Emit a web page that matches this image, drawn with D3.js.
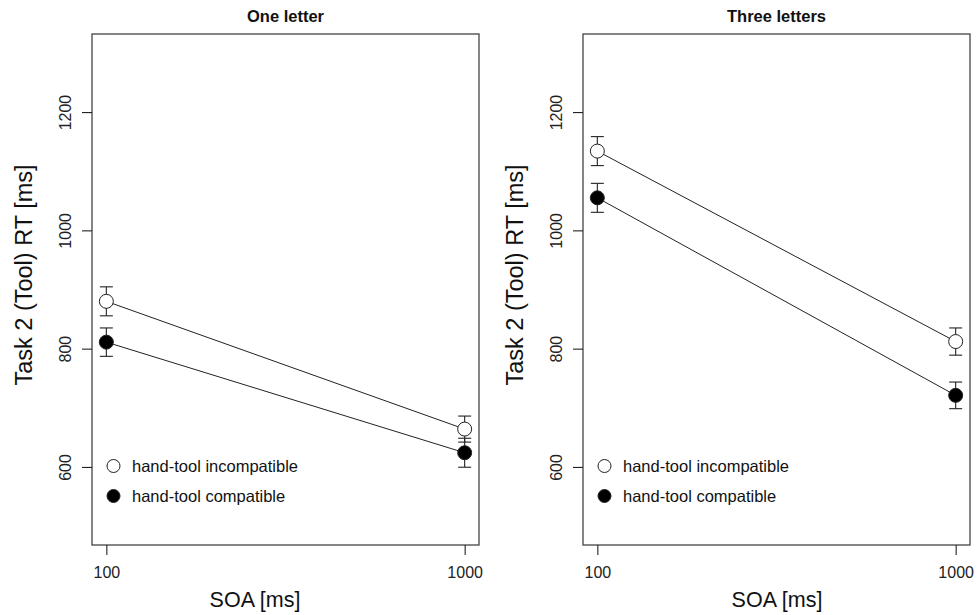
<!DOCTYPE html>
<html>
<head>
<meta charset="utf-8">
<script src="https://cdn.jsdelivr.net/npm/d3@7"></script>
<style>
  html, body { margin: 0; padding: 0; background: #fff; }
  svg { display: block; font-family: "Liberation Sans", Arial, sans-serif; }
</style>
</head>
<body>
<svg id="chart" width="977" height="615"></svg>
<script>
// ---- data ----
const panelTitles = ["One letter", "Three letters"];
const soaLevels = [100, 1000];
const seriesNames = ["hand-tool incompatible", "hand-tool compatible"];
const seriesFill = ["#ffffff", "#000000"];
// One letter
const oneIncompatible = [880, 664];
const oneIncompatibleSE = [24.5, 22];
const oneCompatible = [811, 624];
const oneCompatibleSE = [24, 24.5];
// Three letters
const threeIncompatible = [1134, 812];
const threeIncompatibleSE = [24.5, 23];
const threeCompatible = [1055, 721];
const threeCompatibleSE = [24.5, 22.5];
const yTicks = [600, 800, 1000, 1200];
const xTicks = [100, 1000];
const xLabel = "SOA [ms]";
const yLabel = "Task 2 (Tool) RT [ms]";

const panels = [
  { title: panelTitles[0], xLabelX: 255, series: [
      { name: seriesNames[0], fill: seriesFill[0], mean: oneIncompatible, se: oneIncompatibleSE },
      { name: seriesNames[1], fill: seriesFill[1], mean: oneCompatible, se: oneCompatibleSE } ] },
  { title: panelTitles[1], xLabelX: 777, series: [
      { name: seriesNames[0], fill: seriesFill[0], mean: threeIncompatible, se: threeIncompatibleSE },
      { name: seriesNames[1], fill: seriesFill[1], mean: threeCompatible, se: threeCompatibleSE } ] }
];

const svg = d3.select("#chart");
const plotTop = 34, plotBottom = 545;
const panelLefts = [92, 583];
const plotW = 387;

panels.forEach((p, i) => {
  const left = panelLefts[i], right = left + plotW;
  // R-style log axis with 4% extension
  const lo = Math.log10(100) - 0.04, hi = Math.log10(1000) + 0.04;
  const x = d3.scaleLog().domain([Math.pow(10, lo), Math.pow(10, hi)]).range([left, right]);
  const y = d3.scaleLinear().domain([468, 1332]).range([plotBottom, plotTop]);
  const g = svg.append("g");

  // box
  g.append("rect").attr("x", left).attr("y", plotTop).attr("width", plotW).attr("height", plotBottom - plotTop)
    .attr("fill", "none").attr("stroke", "#444").attr("stroke-width", 1.3);

  // y axis
  const yAxis = d3.axisLeft(y).tickValues(yTicks).tickSize(10).tickFormat(d3.format("d"));
  const ya = g.append("g").attr("transform", `translate(${left},0)`).call(yAxis);
  ya.select(".domain").remove();
  ya.selectAll(".tick line").attr("stroke", "#222").attr("stroke-width", 1.1);
  ya.selectAll(".tick text").attr("x", null).attr("dy", null)
    .attr("transform", "translate(-21.5,0) rotate(-90)")
    .attr("text-anchor", "middle").attr("fill", "#222")
    .style("font-size", "16px");

  // x axis
  const xAxis = d3.axisBottom(x).tickValues(xTicks).tickSize(10).tickFormat(d3.format("d"));
  const xa = g.append("g").attr("transform", `translate(0,${plotBottom})`).call(xAxis);
  xa.select(".domain").remove();
  xa.selectAll(".tick line").attr("stroke", "#222").attr("stroke-width", 1.1);
  xa.selectAll(".tick text").attr("y", 33).attr("dy", null).attr("fill", "#222")
    .style("font-size", "16px");

  // title
  g.append("text").attr("x", (left + right) / 2).attr("y", 22).attr("text-anchor", "middle")
    .style("font-size", "16.5px").style("font-weight", "bold").attr("fill", "#111").text(p.title);
  // axis labels
  g.append("text").attr("x", p.xLabelX).attr("y", 607).attr("text-anchor", "middle")
    .style("font-size", "21.5px").attr("fill", "#111").text(xLabel);
  g.append("text").attr("transform", `translate(${left - 60},275) rotate(-90)`)
    .attr("text-anchor", "middle").style("font-size", "23.5px").attr("fill", "#111").text(yLabel);

  // series
  p.series.forEach(s => {
    const pts = soaLevels.map((v, k) => ({ x: v, m: s.mean[k], se: s.se[k] }));
    g.append("path").datum(pts)
      .attr("d", d3.line().x(d => x(d.x)).y(d => y(d.m)))
      .attr("fill", "none").attr("stroke", "#222").attr("stroke-width", 1);
    const eb = g.append("g").selectAll("g").data(pts).join("g").attr("stroke", "#222").attr("stroke-width", 1.1);
    eb.append("line").attr("x1", d => x(d.x)).attr("x2", d => x(d.x))
      .attr("y1", d => y(d.m - d.se)).attr("y2", d => y(d.m + d.se));
    eb.append("line").attr("x1", d => x(d.x) - 6.5).attr("x2", d => x(d.x) + 6.5)
      .attr("y1", d => y(d.m + d.se)).attr("y2", d => y(d.m + d.se));
    eb.append("line").attr("x1", d => x(d.x) - 6.5).attr("x2", d => x(d.x) + 6.5)
      .attr("y1", d => y(d.m - d.se)).attr("y2", d => y(d.m - d.se));
    g.append("g").selectAll("circle").data(pts).join("circle")
      .attr("cx", d => x(d.x)).attr("cy", d => y(d.m)).attr("r", 7)
      .attr("fill", s.fill).attr("stroke", "#222").attr("stroke-width", 1);
  });

  // legend
  const leg = g.append("g");
  p.series.forEach((s, k) => {
    const ly = 466 + k * 30;
    leg.append("circle").attr("cx", left + 21.5).attr("cy", ly).attr("r", 6.5)
      .attr("fill", s.fill).attr("stroke", "#222").attr("stroke-width", 1);
    leg.append("text").attr("x", left + 40).attr("y", ly).attr("dy", "0.36em")
      .style("font-size", "16.5px").attr("fill", "#111").text(s.name);
  });
});
</script>
</body>
</html>
